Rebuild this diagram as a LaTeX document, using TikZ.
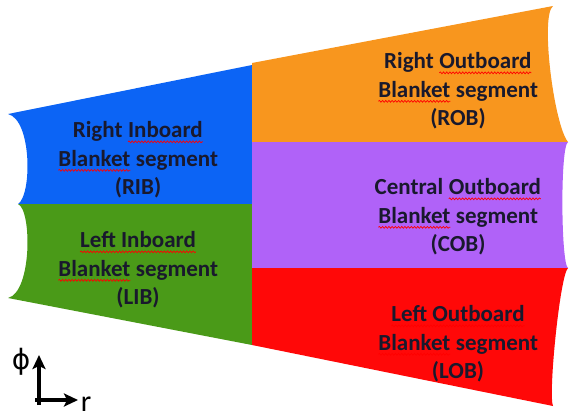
\documentclass[tikz,border=0pt]{standalone}
\usepackage{fontspec}
\setmainfont{Carlito}
\newfontfamily\symbolfont{DejaVu Sans}
\usetikzlibrary{arrows.meta,decorations.pathmorphing}
\definecolor{ribblue}{RGB}{12,100,245}
\definecolor{libgreen}{RGB}{74,154,24}
\definecolor{roborange}{RGB}{248,150,30}
\definecolor{cobpurple}{RGB}{176,98,248}
\definecolor{lobred}{RGB}{255,8,8}
\definecolor{labeltext}{RGB}{25,25,45}
\newcommand{\spell}[1]{\tikz[baseline=(word.base)]{\node[inner sep=0pt,outer sep=0pt] (word) {#1};
	\draw[red,line width=0.7pt,decorate,decoration={snake,amplitude=0.9pt,segment length=3.2pt}]
		([yshift=-4pt]word.base west) -- ([yshift=-4pt]word.base east);}}
\begin{document}
\begin{tikzpicture}[x=1pt,y=-1pt,
		seglabel/.style={align=center,inner sep=0pt,text=labeltext,
			font=\fontsize{23}{28.5}\selectfont\bfseries},
		axisarrow/.style={line width=3.4pt,-{Stealth[length=14pt,width=13pt,inset=3pt]}}]
	\useasboundingbox (0,0) rectangle (569,418);
	% inboard segments
	\fill[ribblue] (8,114) -- (252,65) -- (252,204) -- (18,204)
		.. controls (32,195) and (32,120) .. (8,114) -- cycle;
	\fill[libgreen] (18,204) -- (252,204) -- (252,345) -- (8,298)
		.. controls (32,292) and (32,210) .. (18,204) -- cycle;
	% outboard segments
	\fill[roborange] (252,63) -- (553,6)
		.. controls (540,16) and (554,125) .. (568,142) -- (252,142) -- cycle;
	\fill[cobpurple] (252,142) -- (568,142)
		.. controls (560,147) and (561,264) .. (568,268) -- (252,268) -- cycle;
	\fill[lobred] (252,268) -- (568,268)
		.. controls (560,275) and (548,395) .. (553,406) -- (252,345) -- cycle;
	\node[seglabel] (rib) at (138,160) {Right \spell{Inboard}\\\spell{Blanket} segment\\(RIB)};
	\node[seglabel] (lib) at (138,270) {\spell{Left Inboard}\\\spell{Blanket} segment\\(LIB)};
	\node[seglabel] (rob) at (458,91) {Right \spell{Outboard}\\\spell{Blanket} segment\\(ROB)};
	\node[seglabel] (cob) at (458,217) {Central \spell{Outboard}\\\spell{Blanket} segment\\(COB)};
	\node[seglabel] (lob) at (458,344) {\spell{Left Outboard}\\\spell{Blanket} segment\\(LOB)};
	% coordinate axes
	\coordinate (vbase) at (39,405);
	\coordinate (vtip) at (39,355);
	\coordinate (hbase) at (35,400);
	\coordinate (htip) at (78,400);
	\draw[axisarrow] (vbase) -- (vtip);
	\draw[axisarrow] (hbase) -- (htip);
	\node[font=\symbolfont\fontsize{28}{28}\selectfont] (phi) at (21,362) {ϕ};
	\node[font=\fontsize{30}{30}\selectfont] (r) at (86,404) {r};
\end{tikzpicture}
\end{document}
